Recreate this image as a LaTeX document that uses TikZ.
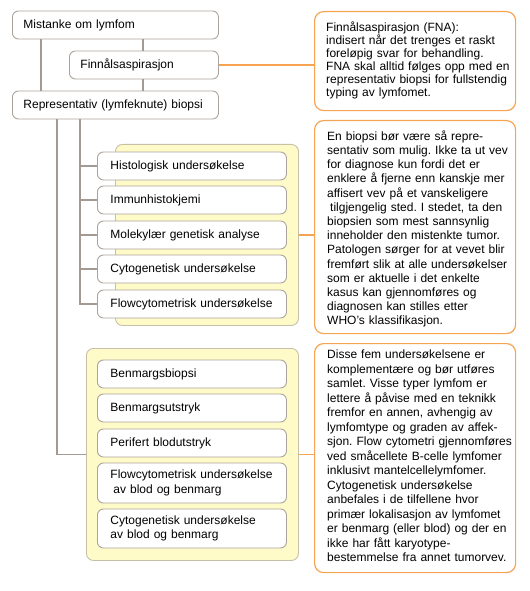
\documentclass[tikz,border=0pt]{standalone}
\usepackage{fontspec}
\setmainfont{Liberation Sans}
\definecolor{boxgray}{HTML}{ABA39B}
\definecolor{linegray}{HTML}{A39B93}
\definecolor{orng}{HTML}{F7A452}
\definecolor{yel}{HTML}{FFFBC9}
\definecolor{yelborder}{HTML}{C8C0A6}
\begin{document}
\frenchspacing
\begin{tikzpicture}[x=1bp,y=-1bp]
\useasboundingbox (0,0) rectangle (530,591);
\tikzset{
  stepbox/.style={draw=boxgray, line width=0.9bp, fill=white, rounded corners=6bp,
    minimum height=28bp, inner xsep=11bp, inner ysep=0bp, anchor=west, align=left,
    font=\fontsize{12bp}{14.5bp}\selectfont},
  subbox/.style={stepbox, inner xsep=13bp, text width=163bp},
  groupbox/.style={draw=yelborder, line width=0.9bp, fill=yel, rounded corners=7bp,
    anchor=north west, inner sep=0bp},
  notebox/.style={draw=orng, line width=1.2bp, fill=white, rounded corners=9bp,
    anchor=north west, inner sep=0bp},
  notetext/.style={anchor=north west, inner sep=0bp, align=left, text width=192bp},
  conn/.style={draw=linegray, line width=1.8bp},
  oconn/.style={draw=orng, line width=1.2bp},
}
% top chain
\node[stepbox, text width=184bp] (mist) at (12,25) {Mistanke om lymfom};
\node[stepbox, text width=127bp] (fin) at (69,65) {Finnålsaspirasjon};
\node[stepbox, text width=184bp] (rep) at (12,105) {Representativ (lymfeknute) biopsi};

% group 1
\node[groupbox, minimum width=183bp, minimum height=181bp] (g1) at (115,144) {};
\node[subbox] (h1) at (97,166) {Histologisk undersøkelse};
\node[subbox] (h2) at (97,200) {Immunhistokjemi};
\node[subbox] (h3) at (97,235) {Molekylær genetisk analyse};
\node[subbox] (h4) at (97,269) {Cytogenetisk undersøkelse};
\node[subbox] (h5) at (97,304) {Flowcytometrisk undersøkelse};

% group 2
\node[groupbox, minimum width=212bp, minimum height=212bp] (g2) at (86,348) {};
\node[subbox] (k1) at (97,374) {Benmargsbiopsi};
\node[subbox] (k2) at (97,408) {Benmargsutstryk};
\node[subbox] (k3) at (97,443) {Perifert blodutstryk};
\node[subbox, minimum height=40bp] (k4) at (97,483) {Flowcytometrisk undersøkelse\\\hspace*{3bp}av blod og benmarg};
\node[subbox, minimum height=39bp] (k5) at (97,528.5) {Cytogenetisk undersøkelse\\av blod og benmarg};

% notes
\node[notebox, minimum width=201bp, minimum height=99bp] (n1) at (314,11) {};
\node[notetext, font=\fontsize{12bp}{13bp}\selectfont] (n1t) at ([shift={(12bp,-10.5bp)}]n1.north west)
{Finnålsaspirasjon (FNA):\\
indisert når det trenges et raskt\\
foreløpig svar for behandling.\\
FNA skal alltid følges opp med en\\
representativ biopsi for fullstendig\\
typing av lymfomet.};

\node[notebox, minimum width=201bp, minimum height=213bp] (n2) at (314,120) {};
\node[notetext, font=\fontsize{12bp}{14.2bp}\selectfont] (n2t) at ([shift={(13bp,-10.5bp)}]n2.north west)
{En biopsi bør være så repre-\\
sentativ som mulig. Ikke ta ut vev\\
for diagnose kun fordi det er\\
enklere å fjerne enn kanskje mer\\
affisert vev på et vanskeligere\\
\hspace*{3bp}tilgjengelig sted. I stedet, ta den\\
biopsien som mest sannsynlig\\
inneholder den mistenkte tumor.\\
Patologen sørger for at vevet blir\\
fremført slik at alle undersøkelser\\
som er aktuelle i det enkelte\\
kasus kan gjennomføres og\\
diagnosen kan stilles etter\\
WHO’s klassifikasjon.};

\node[notebox, minimum width=201bp, minimum height=229bp] (n3) at (314,343) {};
\node[notetext, font=\fontsize{12bp}{14.5bp}\selectfont] (n3t) at ([shift={(13bp,-7bp)}]n3.north west)
{Disse fem undersøkelsene er\\
komplementære og bør utføres\\
samlet. Visse typer lymfom er\\
lettere å påvise med en teknikk\\
fremfor en annen, avhengig av\\
lymfomtype og graden av affek-\\
sjon. Flow cytometri gjennomføres\\
ved småcellete B-celle lymfomer\\
inklusivt mantelcellelymfomer.\\
Cytogenetisk undersøkelse\\
anbefales i de tilfellene hvor\\
primær lokalisasjon av lymfomet\\
er benmarg (eller blod) og der en\\
ikke har fått karyotype-\\
bestemmelse fra annet tumorvev.};

% connectors
\coordinate (ca) at ([xshift=29bp]mist.south west);
\coordinate (cb) at ([xshift=131bp]mist.south west);
\draw[conn] (ca) -- (ca |- rep.north);
\draw[conn] (cb) -- (cb |- fin.north);
\draw[conn] (cb |- fin.south) -- (cb |- rep.north);
\coordinate (ta) at ([xshift=45bp]rep.south west);
\coordinate (tb) at ([xshift=68bp]rep.south west);
\draw[conn] (tb) |- (h5.west);
\foreach \n in {h1,h2,h3,h4} \draw[conn] (\n.west -| tb) -- (\n.west);
\draw[conn] (ta) |- (g2.west);
\draw[oconn] (fin.east) -- (fin.east -| n1.west);
\draw[oconn] (g1.east) -- (g1.east -| n2.west);
\draw[oconn] (g2.east) -- (g2.east -| n3.west);
\end{tikzpicture}
\end{document}
